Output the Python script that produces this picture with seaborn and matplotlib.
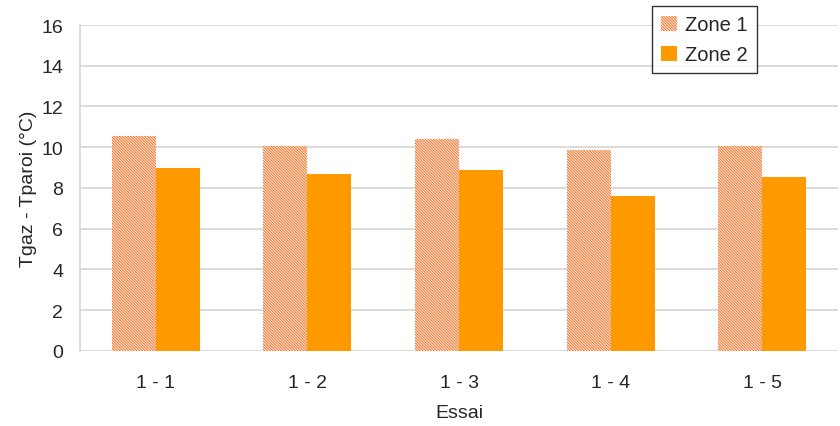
import pandas as pd
import matplotlib
matplotlib.use("Agg")
import matplotlib.pyplot as plt
import seaborn as sns
from matplotlib.patches import Patch

# data
essais = ["1 - 1", "1 - 2", "1 - 3", "1 - 4", "1 - 5"]
zone1 = [10.55, 10.05, 10.4, 9.87, 10.06]
zone2 = [9.0, 8.7, 8.9, 7.62, 8.52]

df = pd.DataFrame({
    "Essai": essais * 2,
    "val": zone1 + zone2,
    "zone": ["Zone 1"] * 5 + ["Zone 2"] * 5,
})

sns.set_style("white")
plt.rcParams["font.family"] = ["Liberation Sans", "DejaVu Sans"]
plt.rcParams["hatch.linewidth"] = 0.75

orange = "#FF9900"
hatch_col = "#FF6A1A"
hatch = "\\" * 12

fig = plt.figure(figsize=(8.4, 4.27), dpi=100)
ax = fig.add_axes([0.095, 0.176, 0.903, 0.763])

sns.barplot(data=df, x="Essai", y="val", hue="zone", ax=ax,
            palette=[orange, orange], width=0.58, saturation=1,
            legend=False, zorder=3)

n = len(essais)
for i, p in enumerate(ax.patches[:2 * n]):
    if i < n:
        p.set_facecolor("white")
        p.set_edgecolor(hatch_col)
        p.set_hatch(hatch)
        p.set_linewidth(0)
    else:
        p.set_edgecolor("none")

ax.set_ylim(0, 16)
ax.set_yticks(range(0, 17, 2))
ax.set_xlim(-0.5, n - 0.5)
ax.yaxis.grid(True, color="#D4D4D4", linewidth=1.2, zorder=0)
ax.set_axisbelow(True)
for s in ["top", "right", "bottom"]:
    ax.spines[s].set_visible(False)
ax.spines["left"].set_color("#D4D4D4")
ax.spines["left"].set_linewidth(1.2)
ax.tick_params(axis="y", length=8, color="#D4D4D4", width=1.2, labelsize=14, pad=4)
ax.tick_params(axis="x", length=0, labelsize=14, pad=17)
ax.set_xlabel("Essai", fontsize=14, labelpad=9)
ax.set_ylabel("Tgaz - Tparoi (°C)", fontsize=14, labelpad=3)

handles = [
    Patch(facecolor="white", edgecolor=hatch_col, hatch=hatch, linewidth=0, label="Zone 1"),
    Patch(facecolor=orange, edgecolor="none", label="Zone 2"),
]
leg = ax.legend(handles=handles, loc="upper right", bbox_to_anchor=(0.893, 1.058),
                fontsize=14.5, frameon=True, fancybox=False, edgecolor="black",
                handlelength=0.8, handleheight=0.8, handletextpad=0.4,
                borderpad=0.45, labelspacing=0.55, borderaxespad=0)
leg.get_frame().set_linewidth(1.0)

fig.savefig("out.png", dpi=100)
